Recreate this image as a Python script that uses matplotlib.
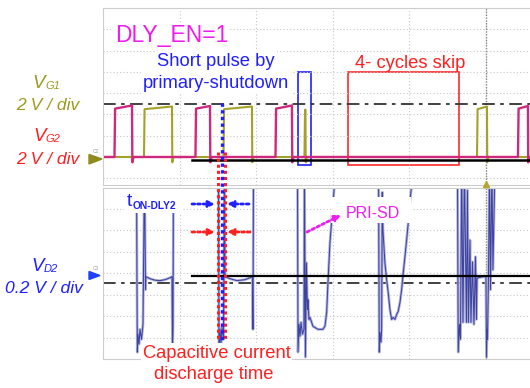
import numpy as np
import matplotlib.pyplot as plt
from matplotlib.patches import Rectangle, Polygon

plt.rcParams['font.family'] = ['Liberation Sans', 'DejaVu Sans']

W, H = 530, 388
T_MIN, T_MAX = -5.0, 0.575   # time axis in divisions, trigger at 0

# gate drive pulses (time in div, level in V)
vg2_rise = [-4.850, -3.793, -2.748, 0.418]
vg2_fall = [-4.621, -3.603, -2.533, 0.548]
vg2_top_start = [4.55, 4.55, 4.55, 4.55]
vg2_top_end = [4.85, 4.80, 4.85, 4.80]

vg1_rise = [-4.465, -3.427, -2.370, -0.117]
vg1_fall = [-4.099, -3.055, -2.357, 0.013]
vg1_top_start = [4.50, 4.50, 4.45, 4.50]
vg1_top_end = [4.75, 4.75, 4.45, 4.75]

# SR drain voltage (time in div, V); 1.0 means off-screen above the grid
vd2_t = [-5.0,
         -4.563, -4.552, -4.543, -4.530, -4.517, -4.497, -4.478, -4.458, -4.445, -4.439,
         -4.386, -4.321, -4.256, -4.190, -4.125, -4.099, -4.093, -4.086, -4.080,
         -3.492, -3.486, -3.473, -3.460, -3.447, -3.427, -3.414, -3.407,
         -3.342, -3.251, -3.146, -3.081, -3.049, -3.042, -3.035,
         -2.461, -2.454, -2.441, -2.428, -2.415, -2.396, -2.376, -2.370, -2.357, -2.344,
         -2.331, -2.324, -2.311, -2.298, -2.259, -2.193, -2.128, -2.102, -2.080, -2.067,
         -2.050, -2.037, -2.014, -1.994, -1.981, -1.971,
         -1.403, -1.393, -1.384, -1.371, -1.362, -1.354, -1.345, -1.319, -1.297, -1.276,
         -1.254, -1.232, -1.211, -1.188, -1.166, -1.146, -1.123, -1.101, -1.080, -1.058,
         -1.036, -1.015, -0.992, -0.973, -0.966,
         -0.372, -0.362, -0.346, -0.333, -0.317, -0.300, -0.281, -0.255, -0.242, -0.229,
         -0.209, -0.196, -0.176, -0.157, -0.137, -0.124, -0.117, -0.104, -0.013, 0.000,
         0.007, 0.013, 0.020, 0.033, 0.046, 0.059, 0.078, 0.091, 0.117,
         0.6]
vd2_v = [1.0,
         1.0, -0.736, -0.569, -0.662, -0.523, -0.616, -0.477, 1.0, -0.153, -0.032,
         -0.051, -0.065, -0.069, -0.060, -0.042, -0.032, -0.708, -0.523, 1.0,
         1.0, -0.755, -0.523, -0.662, -0.505, -0.616, 1.0, -0.032,
         -0.051, -0.069, -0.060, -0.042, -0.032, -0.523, 1.0,
         1.0, -0.736, -0.477, -0.588, -0.458, -0.569, -0.523, 1.0, -0.782, 0.097,
         -0.338, -0.245, -0.431, -0.412, -0.495, -0.523, -0.523, -0.493, -0.366, -0.153,
         0.097, 0.282, 0.495, 0.681, 0.801, 1.0,
         1.0, -0.736, -0.551, -0.644, -0.523, 0.755, 0.403, 0.097, -0.060, -0.181,
         -0.338, -0.431, -0.412, -0.431, -0.384, -0.356, -0.273, -0.153, 0.005, 0.153,
         0.310, 0.468, 0.681, 0.801, 1.0,
         1.0, -0.736, -0.477, -0.616, 1.0, -0.458, 1.0, -0.458, 0.773, -0.458,
         0.310, -0.458, 0.106, -0.477, 0.153, -0.431, -0.051, -0.042, -0.028, -0.032,
         -0.782, -0.523, -0.616, -0.032, 1.0, -0.153, 1.0, 0.032, 1.0,
         1.0]

OLIVE = '#a4a12a'
MAGENTA = '#d0287c'
BLUE = '#1f1fff'
RED = '#ff1f1f'
PINK = '#ee1cee'
TEXT_OLIVE = '#9c9a1e'


def gate_wave(rise, fall, top_start, top_end, edge=0.008):
    t, v = [T_MIN], [0.0]
    for r, f, a, b in zip(rise, fall, top_start, top_end):
        t += [r, r + edge, f, f + 0.004, f + 0.02]
        v += [0.0, a, b, -0.5, 0.0]
    t.append(T_MAX + 0.1)
    v.append(0.0)
    return t, v


fig = plt.figure(figsize=(W / 100, H / 100), dpi=100)
fig.patch.set_facecolor('white')


def px_axes(x0, y0, x1, y1, **kw):
    return fig.add_axes([x0 / W, 1 - y1 / H, (x1 - x0) / W, (y1 - y0) / H], **kw)


ax_g = px_axes(103, 8, 530, 185)
ax_d = px_axes(103, 187.5, 530, 359)

for ax in (ax_g, ax_d):
    ax.set_xlim(T_MIN, T_MAX)
    ax.set_xticks(np.arange(-4, 1))
    ax.tick_params(length=0, labelbottom=False, labelleft=False)
    ax.grid(True, color='#c6c6c6', linestyle=(0, (1, 2)), linewidth=0.8)
    for s in ('left', 'top', 'bottom'):
        ax.spines[s].set_color('#cdcdcd')
    ax.spines['right'].set_visible(False)
    ax.axvline(0, color='#8a8a8a', linestyle=(0, (1, 1)), linewidth=1.0)

# gate drive panel
ax_g.set_ylim(-2.635, 14.02)
ax_g.set_yticks(np.arange(-2, 13, 2))
ax_g.axhline(5.0, color='#333333', linewidth=1.3, linestyle=(0, (7, 3, 2, 3)))
t1, v1 = gate_wave(vg1_rise, vg1_fall, vg1_top_start, vg1_top_end)
t2, v2 = gate_wave(vg2_rise, vg2_fall, vg2_top_start, vg2_top_end)
ax_g.plot(t1, v1, color=OLIVE, linewidth=1.5)
ax_g.plot(t2, v2, color=MAGENTA, linewidth=1.7)
ax_g.plot([-3.838, T_MAX], [-0.28, -0.28], color='black', linewidth=1.8)
ax_g.add_patch(Rectangle((-2.454, -0.75), 0.169, 8.75, fill=False, ec='#2020ff', lw=1.2))
ax_g.add_patch(Rectangle((-1.802, -0.75), 1.45, 8.75, fill=False, ec='#ff2a2a', lw=1.2))

# drain voltage panel
ax_d.set_ylim(-0.8, 0.8)
ax_d.set_yticks(np.arange(-0.6, 0.61, 0.2))
ax_d.axhline(-0.09, color='#333333', linewidth=1.3, linestyle=(0, (7, 3, 2, 3)))
ax_d.plot(vd2_t, vd2_v, color='#b3b6dc', linewidth=2.0)
ax_d.plot(vd2_t, vd2_v, color='#3f43a0', linewidth=0.75)
ax_d.plot([-3.838, T_MAX], [-0.025, -0.025], color='black', linewidth=1.6)

# annotation layer in pixel coordinates
ov = fig.add_axes([0, 0, 1, 1], zorder=10)
ov.set_xlim(0, W)
ov.set_ylim(H, 0)
ov.axis('off')

white = dict(facecolor='white', edgecolor='none', pad=1.5)
ov.text(115, 42, 'DLY_EN=1', color=PINK, fontsize=16.5, va='baseline', bbox=white)
ov.text(216, 66, 'Short pulse by', color=BLUE, fontsize=13.2, ha='center', va='baseline', bbox=white)
ov.text(216, 87.5, 'primary-shutdown', color=BLUE, fontsize=13.2, ha='center', va='baseline', bbox=white)
ov.text(410, 68.5, '4- cycles skip', color=RED, fontsize=13.2, ha='center', va='baseline')

# channel labels
ov.text(32, 88.5, 'V', color=TEXT_OLIVE, fontsize=13.5, style='italic', va='baseline')
ov.text(45, 89, 'G1', color=TEXT_OLIVE, fontsize=8, style='italic', va='baseline')
ov.text(48, 110, '2 V / div', color=TEXT_OLIVE, fontsize=12.6, style='italic', ha='center', va='baseline')
ov.text(33, 141, 'V', color=RED, fontsize=13.5, style='italic', va='baseline')
ov.text(45.5, 142, 'G2', color=RED, fontsize=8, style='italic', va='baseline')
ov.text(48, 164, '2 V / div', color=RED, fontsize=12.6, style='italic', ha='center', va='baseline')
ov.text(31, 271, 'V', color=BLUE, fontsize=13.5, style='italic', va='baseline')
ov.text(44, 271.5, 'D2', color=BLUE, fontsize=8, style='italic', va='baseline')
ov.text(44, 293, '0.2 V / div', color=BLUE, fontsize=12.6, style='italic', ha='center', va='baseline')

# channel ground markers and trigger marker
ov.add_patch(Polygon([[89, 154.5], [89, 164], [102, 159]], closed=True, color='#8e8a1c'))
ov.text(96, 153, 'C2', color='#999999', fontsize=3.5, ha='center', va='baseline')
ov.add_patch(Polygon([[89, 271.5], [89, 279.5], [100, 275.5]], closed=True, color='#2040ff'))
ov.text(96, 270, 'C3', color='#999999', fontsize=3.5, ha='center', va='baseline')
ov.plot([486], [184], marker='^', markersize=4, color='#b0a830')

# timing markers
dots = (0, (1, 1))
ov.plot([217.5, 217.5], [152, 340], color=RED, linewidth=2.2, linestyle=dots)
ov.plot([225, 225], [152, 340], color=RED, linewidth=2.2, linestyle=dots)
ov.plot([221.5, 221.5], [103, 340], color=BLUE, linewidth=2.4, linestyle=dots)


def dotted_arrow(x0, y0, x1, y1, color):
    ov.annotate('', xy=(x1, y1), xytext=(x0, y0),
                arrowprops=dict(arrowstyle='-|>', color=color, lw=2.0, linestyle=dots,
                                mutation_scale=9, shrinkA=0, shrinkB=0))


dotted_arrow(192, 204, 215, 204, BLUE)
dotted_arrow(249, 204, 227, 204, BLUE)
dotted_arrow(192, 232, 215, 232, RED)
dotted_arrow(250, 232, 227, 232, RED)
dotted_arrow(307, 232, 341, 215, PINK)

ov.add_patch(Rectangle((124, 188.5), 59, 24, facecolor='white', edgecolor='none'))
ov.text(126.5, 206.5, 't', color=BLUE, fontsize=14, va='baseline')
ov.text(133, 209, 'ON-DLY2', color=BLUE, fontsize=7.4, fontweight='bold', va='baseline')

ov.add_patch(Rectangle((331, 197), 80, 26, facecolor='white', edgecolor='none'))
ov.text(373, 217.5, 'PRI-SD', color=PINK, fontsize=11.5, ha='center', va='baseline')

ov.text(216.5, 357.7, 'Capacitive current', color=RED, fontsize=13.2, ha='center', va='baseline', bbox=white)
ov.text(214, 379.3, 'discharge time', color=RED, fontsize=13.2, ha='center', va='baseline')

fig.savefig('out.png', dpi=100, facecolor='white')
